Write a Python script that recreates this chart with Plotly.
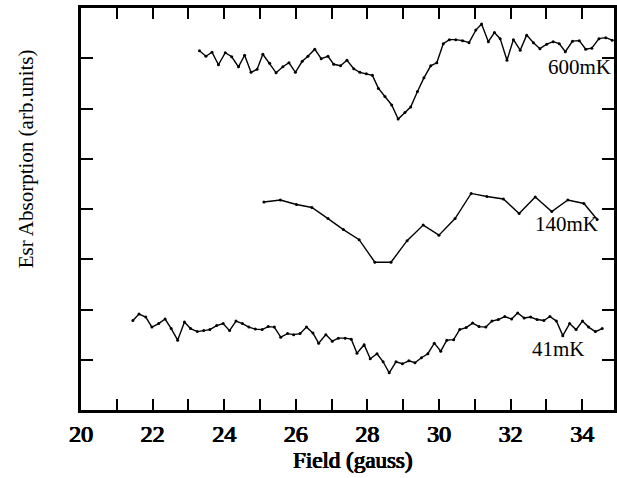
import plotly.graph_objects as go

# ---- data ----
field_600 = [23.31, 23.49, 23.66, 23.84, 24.03, 24.21, 24.40, 24.57, 24.75, 24.92,
             25.08, 25.27, 25.45, 25.64, 25.81, 25.99, 26.18, 26.34, 26.53, 26.71,
             26.90, 27.06, 27.25, 27.43, 27.62, 27.79, 27.97, 28.14, 28.31, 28.49,
             28.68, 28.86, 29.05, 29.21, 29.40, 29.58, 29.77, 29.94, 30.12, 30.29,
             30.47, 30.66, 30.84, 31.03, 31.19, 31.38, 31.55, 31.71, 31.90, 32.08,
             32.27, 32.45, 32.64, 32.82, 33.01, 33.19, 33.36, 33.53, 33.73, 33.92,
             34.10, 34.27, 34.47, 34.66, 34.84]
absorb_600 = [7.15, 7.04, 7.12, 6.87, 7.11, 7.03, 6.83, 7.06, 6.72, 6.78,
              7.08, 6.90, 6.71, 6.83, 6.91, 6.72, 6.94, 7.04, 7.18, 6.99,
              7.04, 6.88, 6.85, 6.96, 6.79, 6.72, 6.69, 6.66, 6.40, 6.24,
              6.07, 5.79, 5.92, 6.03, 6.34, 6.61, 6.85, 6.91, 7.29, 7.37,
              7.37, 7.35, 7.31, 7.56, 7.68, 7.33, 7.51, 7.39, 6.96, 7.37,
              7.16, 7.46, 7.31, 7.19, 7.28, 7.33, 7.29, 7.13, 7.34, 7.35,
              7.18, 7.20, 7.39, 7.41, 7.36]

field_140 = [25.11, 25.57, 26.02, 26.45, 26.90, 27.33, 27.77, 28.21, 28.66, 29.11,
             29.56, 30.00, 30.45, 30.90, 31.34, 31.80, 32.24, 32.69, 33.15, 33.60,
             34.05, 34.42]
absorb_140 = [4.14, 4.18, 4.09, 4.03, 3.81, 3.59, 3.39, 2.94, 2.94, 3.37,
              3.68, 3.48, 3.81, 4.31, 4.25, 4.20, 3.91, 4.24, 3.95, 4.18,
              4.11, 3.79]

field_41 = [21.45, 21.62, 21.81, 21.98, 22.17, 22.35, 22.52, 22.70, 22.89, 23.06,
            23.25, 23.43, 23.60, 23.79, 23.97, 24.15, 24.33, 24.51, 24.69, 24.87,
            25.06, 25.23, 25.40, 25.58, 25.77, 25.94, 26.12, 26.30, 26.48, 26.64,
            26.84, 27.02, 27.19, 27.38, 27.55, 27.71, 27.91, 28.08, 28.27, 28.44,
            28.61, 28.80, 28.98, 29.16, 29.33, 29.51, 29.69, 29.87, 30.05, 30.22,
            30.41, 30.58, 30.76, 30.94, 31.12, 31.31, 31.48, 31.66, 31.84, 32.03,
            32.20, 32.38, 32.56, 32.74, 32.93, 33.10, 33.28, 33.46, 33.65, 33.83,
            34.01, 34.18, 34.37, 34.56]
absorb_41 = [1.78, 1.91, 1.85, 1.65, 1.72, 1.81, 1.62, 1.39, 1.75, 1.62,
             1.56, 1.58, 1.60, 1.68, 1.72, 1.58, 1.77, 1.72, 1.65, 1.61,
             1.60, 1.66, 1.65, 1.45, 1.52, 1.50, 1.52, 1.65, 1.53, 1.33,
             1.50, 1.37, 1.43, 1.43, 1.41, 1.13, 1.30, 1.02, 1.12, 0.96,
             0.74, 0.96, 0.92, 0.98, 0.94, 1.04, 1.12, 1.33, 1.17, 1.39,
             1.40, 1.60, 1.64, 1.73, 1.66, 1.65, 1.77, 1.80, 1.86, 1.81,
             1.93, 1.83, 1.85, 1.80, 1.78, 1.86, 1.77, 1.48, 1.72, 1.60,
             1.77, 1.65, 1.56, 1.62]

series_names = ["600mK", "140mK", "41mK"]

x_tickvals = [20, 21, 22, 23, 24, 25, 26, 27, 28, 29, 30, 31, 32, 33, 34]
x_ticktext = ["20", "", "22", "", "24", "", "26", "", "28", "", "30", "", "32", "", "34"]
y_tickvals = [1, 2, 3, 4, 5, 6, 7]

SERIF = "Liberation Serif"
THICK = "0.7px 0 0 black, -0.5px 0 0 black, 0 0.4px 0 black"

fig = go.Figure()
for xs, ys, name in [(field_600, absorb_600, series_names[0]),
                     (field_140, absorb_140, series_names[1]),
                     (field_41, absorb_41, series_names[2])]:
    fig.add_trace(go.Scatter(x=xs, y=ys, mode="lines+markers", name=name,
                             line=dict(color="black", width=1.4),
                             marker=dict(color="black", size=3),
                             showlegend=False))

label_pos = [(34.86, 6.82), (34.50, 3.70), (34.14, 1.22)]
for (lx, ly), name in zip(label_pos, series_names):
    fig.add_annotation(x=lx, y=ly, xref="x", yref="y", text=name, showarrow=False,
                       xanchor="right", yanchor="middle",
                       font=dict(family=SERIF, size=21, color="black"))

fig.add_annotation(x=-0.103, y=0.624, xref="paper", yref="paper",
                   text="Esr Absorption (arb.units)", textangle=-90, showarrow=False,
                   xanchor="center", yanchor="middle",
                   font=dict(family=SERIF, size=21, color="black"))
fig.add_annotation(x=0.509, y=-0.126, xref="paper", yref="paper",
                   text="Field (gauss)", showarrow=False,
                   xanchor="center", yanchor="middle",
                   font=dict(family=SERIF, size=23, color="black", shadow=THICK))

fig.update_layout(
    width=617, height=478,
    margin=dict(l=81, r=0, t=8, b=68),
    paper_bgcolor="white", plot_bgcolor="white",
    xaxis=dict(range=[20, 34.89], tickvals=x_tickvals, ticktext=x_ticktext,
               ticks="inside", ticklen=11, tickwidth=2, tickcolor="black",
               showline=True, linewidth=2.5, linecolor="black", mirror="ticks",
               showgrid=False, zeroline=False,
               tickfont=dict(family=SERIF, size=24, color="black", shadow=THICK)),
    yaxis=dict(range=[0, 8], tickvals=y_tickvals, showticklabels=False,
               ticks="inside", ticklen=12, tickwidth=2, tickcolor="black",
               showline=True, linewidth=2.5, linecolor="black", mirror="ticks",
               showgrid=False, zeroline=False),
)

fig.write_html("out.html")
